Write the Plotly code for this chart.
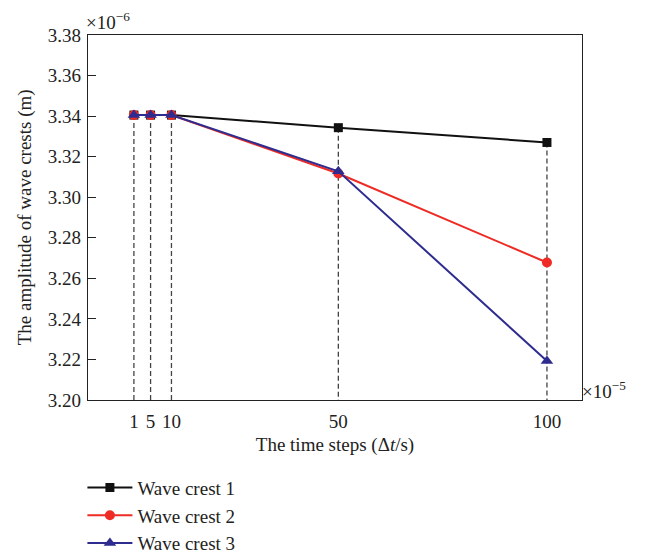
import plotly.graph_objects as go

time_steps = [1, 5, 10, 50, 100]
crest1 = [3.3405, 3.3405, 3.3405, 3.3343, 3.3270]
crest2 = [3.3405, 3.3405, 3.3405, 3.3117, 3.2678]
crest3 = [3.3405, 3.3405, 3.3405, 3.3128, 3.2192]
y_ticks = [3.20, 3.22, 3.24, 3.26, 3.28, 3.30, 3.32, 3.34, 3.36, 3.38]
series_names = ["Wave crest 1", "Wave crest 2", "Wave crest 3"]

FONT = "Liberation Serif"
Y_MIN, Y_MAX = 3.20, 3.38

fig = go.Figure()

# dashed drop lines from the highest point at each time step down to the x axis
dx, dy = [], []
for i, t in enumerate(time_steps):
    top = max(crest1[i], crest2[i], crest3[i])
    dx += [t, t, None]
    dy += [top, Y_MIN, None]
fig.add_trace(go.Scatter(x=dx, y=dy, mode="lines", showlegend=False, hoverinfo="skip",
                         line=dict(color="#444444", width=1.3, dash="5px,3px")))

styles = [
    dict(color="#111111", symbol="square", size=9),
    dict(color="#ee2b24", symbol="circle", size=10),
    dict(color="#2e2d8f", symbol="triangle-up", size=11),
]
for name, ys, st in zip(series_names, [crest1, crest2, crest3], styles):
    fig.add_trace(go.Scatter(
        x=time_steps, y=ys, mode="lines+markers", name=name,
        line=dict(color=st["color"], width=2),
        marker=dict(color=st["color"], symbol=st["symbol"], size=st["size"]),
    ))

fig.update_layout(
    width=654, height=554,
    margin=dict(l=88, r=72, t=35, b=154, autoexpand=False),
    paper_bgcolor="white", plot_bgcolor="white",
    font=dict(family=FONT, size=19, color="#222222"),
    showlegend=True,
    legend=dict(xref="container", yref="container", x=0.126, y=0.154,
                xanchor="left", yanchor="top",
                font=dict(family=FONT, size=19, color="#222222"),
                bgcolor="rgba(0,0,0,0)", tracegroupgap=0, itemwidth=45),
    xaxis=dict(range=[-10, 108.4], tickvals=time_steps, ticktext=[str(t) for t in time_steps],
               showgrid=False, zeroline=False, showline=True, linecolor="#222222", linewidth=1.3,
               mirror=True, ticks="", tickfont=dict(size=19), ticklabelstandoff=4, automargin=True,
               title=dict(text="The time steps (Δ<i>t</i>/s)", font=dict(size=19), standoff=6)),
    yaxis=dict(range=[Y_MIN, Y_MAX], tickvals=y_ticks, ticktext=[f"{v:.2f}" for v in y_ticks],
               showgrid=False, zeroline=False, showline=True, linecolor="#222222", linewidth=1.3,
               mirror=True, ticks="inside", ticklen=8, tickcolor="#222222", tickfont=dict(size=19),
               ticklabelstandoff=2, automargin=False),
)

# y-axis title
fig.add_annotation(xref="paper", yref="paper", x=-0.128, y=0.5, xanchor="center", yanchor="middle",
                   textangle=-90, text="The amplitude of wave crests (m)", showarrow=False,
                   font=dict(size=19))
fig.add_annotation(xref="paper", yref="paper", x=0.0, y=1.0, xanchor="left", yanchor="bottom",
                   text="×10<sup>−6</sup>", showarrow=False, font=dict(size=19), yshift=0, xshift=-4)
fig.add_annotation(xref="paper", yref="paper", x=1.0, y=0.0, xanchor="left", yanchor="bottom",
                   text="×10<sup>−5</sup>", showarrow=False, font=dict(size=19), xshift=-2, yshift=-4)

fig.write_html("out.html")
